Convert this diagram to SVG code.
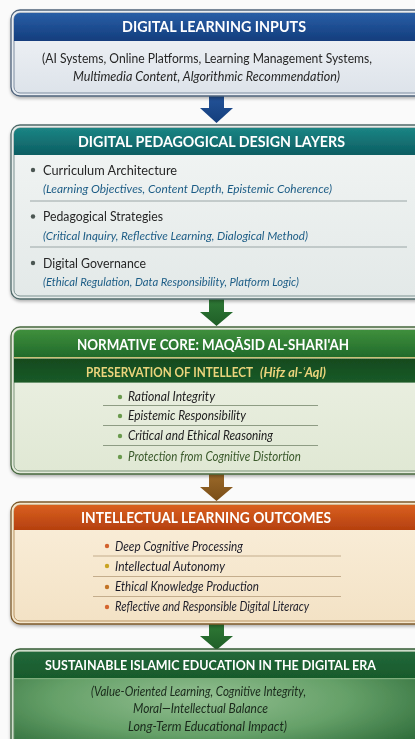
<svg xmlns="http://www.w3.org/2000/svg" width="415" height="739" viewBox="0 0 415 739">
  <style>
    .title { font-family: Lato, "Open Sans", "Liberation Sans", sans-serif; font-weight: 700; font-size: 14.5px; fill: #ffffff; text-anchor: middle; }
    .gold { fill: #ead47c; font-size: 12.4px; text-anchor: start; }
    .txt { font-family: Lato, "Open Sans", "Liberation Sans", sans-serif; font-size: 13.5px; fill: #262626; }
    .it { font-style: italic; }
    .sub { font-family: Lato, "Open Sans", "Liberation Sans", sans-serif; font-style: italic; font-size: 12px; fill: #1d5d86; }
    .item { font-family: Lato, "Open Sans", "Liberation Sans", sans-serif; font-style: italic; font-size: 12.5px; fill: #222222; }
    .era { fill: #1a2a1c; font-size: 12.5px; }
    .out { fill: #1f1f2a; font-size: 13px; }
    .sep { stroke-width: 1; fill: none; }
    .frame { stroke-width: 1.3; }
    .inner { stroke-width: 1; }
  </style>
  <defs>
    <filter id="shadow" x="-5%" y="-10%" width="110%" height="125%">
      <feDropShadow dx="0" dy="2" stdDeviation="1.8" flood-color="#000" flood-opacity="0.28"/>
    </filter>
    <linearGradient id="gBlueHead" x1="0" y1="0" x2="0" y2="1">
      <stop offset="0" stop-color="#2a5ea6"/>
      <stop offset="1" stop-color="#123d7d"/>
    </linearGradient>
    <linearGradient id="gBlueBody" x1="0" y1="0" x2="0" y2="1">
      <stop offset="0" stop-color="#f3f5f8"/>
      <stop offset="1" stop-color="#dde3ea"/>
    </linearGradient>
    <linearGradient id="gTealHead" x1="0" y1="0" x2="0" y2="1">
      <stop offset="0" stop-color="#1b8584"/>
      <stop offset="1" stop-color="#0c5d62"/>
    </linearGradient>
    <linearGradient id="gTealBody" x1="0" y1="0" x2="0" y2="1">
      <stop offset="0" stop-color="#f2f5f4"/>
      <stop offset="1" stop-color="#e3e9e8"/>
    </linearGradient>
    <linearGradient id="gGreenHead" x1="0" y1="0" x2="0" y2="1">
      <stop offset="0" stop-color="#3f8f3c"/>
      <stop offset="1" stop-color="#216b2b"/>
    </linearGradient>
    <linearGradient id="gDarkBand" x1="0" y1="0" x2="0" y2="1">
      <stop offset="0" stop-color="#114a1e"/>
      <stop offset="1" stop-color="#1b5a27"/>
    </linearGradient>
    <linearGradient id="gGreenBody" x1="0" y1="0" x2="0" y2="1">
      <stop offset="0" stop-color="#eef2e6"/>
      <stop offset="1" stop-color="#e0e8d4"/>
    </linearGradient>
    <linearGradient id="gOrangeHead" x1="0" y1="0" x2="0" y2="1">
      <stop offset="0" stop-color="#d9601f"/>
      <stop offset="1" stop-color="#b5400f"/>
    </linearGradient>
    <linearGradient id="gOrangeBody" x1="0" y1="0" x2="0" y2="1">
      <stop offset="0" stop-color="#faefdb"/>
      <stop offset="1" stop-color="#f3e2c5"/>
    </linearGradient>
    <linearGradient id="gEraHead" x1="0" y1="0" x2="0" y2="1">
      <stop offset="0" stop-color="#23683a"/>
      <stop offset="1" stop-color="#185a2b"/>
    </linearGradient>
    <radialGradient id="gEraBody" cx="0.45" cy="0.45" r="0.65">
      <stop offset="0" stop-color="#94c092"/>
      <stop offset="0.55" stop-color="#65a068"/>
      <stop offset="1" stop-color="#2e6c3a"/>
    </radialGradient>
    <linearGradient id="gArrowBlue" x1="0" y1="0" x2="0" y2="1">
      <stop offset="0" stop-color="#24549a"/>
      <stop offset="1" stop-color="#143e7c"/>
    </linearGradient>
    <linearGradient id="gArrowGreen" x1="0" y1="0" x2="0" y2="1">
      <stop offset="0" stop-color="#2f7a36"/>
      <stop offset="1" stop-color="#1f5e27"/>
    </linearGradient>
    <linearGradient id="gArrowBrown" x1="0" y1="0" x2="0" y2="1">
      <stop offset="0" stop-color="#9c6a2a"/>
      <stop offset="1" stop-color="#7a4e18"/>
    </linearGradient>
  </defs>

  <rect width="415" height="739" fill="#fafafa"/>

  <!-- connectors: block arrows between stages -->
  <g id="connectors">
    <path d="M209,95 L224,95 L224,108 L233,108 L216.5,123 L200,108 L209,108 Z" fill="url(#gArrowBlue)"/>
    <path d="M209,298 L224,298 L224,312 L233,312 L216.5,326 L200,312 L209,312 Z" fill="url(#gArrowGreen)"/>
    <path d="M209,473 L224,473 L224,487 L233,487 L216.5,501 L200,487 L209,487 Z" fill="url(#gArrowBrown)"/>
    <path d="M209,623 L224,623 L224,636 L233,636 L216.5,650 L200,636 L209,636 Z" fill="url(#gArrowGreen)"/>
  </g>

  <!-- stage 1: inputs -->
  <g id="inputs" filter="url(#shadow)">
    <rect class="frame" x="11" y="10" width="420" height="86" rx="9" fill="#e9edf2" stroke="#4f637b"/>
    <rect class="inner" x="14" y="13" width="414" height="80" rx="6" fill="url(#gBlueBody)" stroke="#7c8ca0"/>
    <path d="M14,41 V19 A6,6 0 0 1 20,13 H428 V41 Z" fill="url(#gBlueHead)"/>
    <text class="title" x="214" y="32" textLength="184" lengthAdjust="spacingAndGlyphs">DIGITAL LEARNING INPUTS</text>
    <text class="txt" x="42" y="62.5" textLength="330" lengthAdjust="spacingAndGlyphs">(AI Systems, Online Platforms, Learning Management Systems,</text>
    <text class="txt it" x="73" y="80.5" textLength="267" lengthAdjust="spacingAndGlyphs">Multimedia Content, Algorithmic Recommendation)</text>
  </g>

  <!-- stage 2: pedagogical design layers -->
  <g id="design-layers" filter="url(#shadow)">
    <rect class="frame" x="11" y="125" width="420" height="174" rx="9" fill="#e6ecea" stroke="#4f6a6a"/>
    <rect class="inner" x="14" y="128" width="414" height="168" rx="6" fill="url(#gTealBody)" stroke="#7d9292"/>
    <path d="M14,155 V134 A6,6 0 0 1 20,128 H428 V155 Z" fill="url(#gTealHead)"/>
    <text class="title" x="211.5" y="147" textLength="267" lengthAdjust="spacingAndGlyphs">DIGITAL PEDAGOGICAL DESIGN LAYERS</text>
    <g fill="#4c5752">
      <circle cx="33" cy="170" r="2.2"/>
      <circle cx="33" cy="216.5" r="2.2"/>
      <circle cx="33" cy="263" r="2.2"/>
    </g>
    <text class="txt" x="43" y="174.5" textLength="134" lengthAdjust="spacingAndGlyphs">Curriculum Architecture</text>
    <text class="sub" x="43" y="192.5" textLength="289" lengthAdjust="spacingAndGlyphs">(Learning Objectives, Content Depth, Epistemic Coherence)</text>
    <line class="sep" x1="30" y1="201" x2="407" y2="201" stroke="#9aa6a6"/>
    <text class="txt" x="43" y="221" textLength="120" lengthAdjust="spacingAndGlyphs">Pedagogical Strategies</text>
    <text class="sub" x="43" y="240" textLength="265" lengthAdjust="spacingAndGlyphs">(Critical Inquiry, Reflective Learning, Dialogical Method)</text>
    <line class="sep" x1="30" y1="247" x2="407" y2="247" stroke="#9aa6a6"/>
    <text class="txt" x="43" y="267.5" textLength="103" lengthAdjust="spacingAndGlyphs">Digital Governance</text>
    <text class="sub" x="43" y="286" textLength="256" lengthAdjust="spacingAndGlyphs">(Ethical Regulation, Data Responsibility, Platform Logic)</text>
  </g>

  <!-- stage 3: normative core -->
  <g id="normative-core" filter="url(#shadow)">
    <rect class="frame" x="11" y="327" width="420" height="147" rx="9" fill="#e4eadb" stroke="#47683f"/>
    <rect class="inner" x="14" y="330" width="414" height="141" rx="6" fill="url(#gGreenBody)" stroke="#7c957a"/>
    <path d="M14,357 V336 A6,6 0 0 1 20,330 H428 V357 Z" fill="url(#gGreenHead)"/>
    <rect x="14" y="357" width="414" height="1.6" fill="#c9c27a"/>
    <rect x="14" y="358.6" width="414" height="24" fill="url(#gDarkBand)"/>
    <text class="title" x="213" y="350" textLength="272" lengthAdjust="spacingAndGlyphs">NORMATIVE CORE: MAQĀSID AL-SHARI'AH</text>
    <text class="title gold" x="86" y="377" textLength="167" lengthAdjust="spacingAndGlyphs">PRESERVATION OF INTELLECT</text>
    <text class="title gold it" x="260" y="377" font-size="12.6" style="font-size:12.6px" textLength="66" lengthAdjust="spacingAndGlyphs">(Hifz al-ʿAql)</text>
    <g fill="#6a9a4e">
      <circle cx="120" cy="397" r="2.2"/>
      <circle cx="120" cy="416" r="2.2"/>
      <circle cx="120" cy="436" r="2.2"/>
      <circle cx="120" cy="457" r="2.2"/>
    </g>
    <text class="item" x="128" y="401" textLength="87" lengthAdjust="spacingAndGlyphs">Rational Integrity</text>
    <line class="sep" x1="103" y1="405.5" x2="318" y2="405.5" stroke="#8e9c84"/>
    <text class="item" x="128" y="420" textLength="118" lengthAdjust="spacingAndGlyphs">Epistemic Responsibility</text>
    <line class="sep" x1="103" y1="425.5" x2="318" y2="425.5" stroke="#8e9c84"/>
    <text class="item" x="128" y="440" textLength="145" lengthAdjust="spacingAndGlyphs">Critical and Ethical Reasoning</text>
    <line class="sep" x1="103" y1="445.5" x2="318" y2="445.5" stroke="#8e9c84"/>
    <text class="item" x="128" y="461" textLength="173" lengthAdjust="spacingAndGlyphs" style="fill:#3b5a2c">Protection from Cognitive Distortion</text>
  </g>

  <!-- stage 4: learning outcomes -->
  <g id="outcomes" filter="url(#shadow)">
    <rect class="frame" x="11" y="502" width="420" height="122" rx="9" fill="#f4e6cc" stroke="#7d5a2a"/>
    <rect class="inner" x="14" y="505" width="414" height="116" rx="6" fill="url(#gOrangeBody)" stroke="#b99462"/>
    <path d="M14,530 V511 A6,6 0 0 1 20,505 H428 V530 Z" fill="url(#gOrangeHead)"/>
    <text class="title" x="206" y="523" textLength="250" lengthAdjust="spacingAndGlyphs">INTELLECTUAL LEARNING OUTCOMES</text>
    <circle cx="107" cy="546" r="2.2" fill="#d2622e"/>
    <circle cx="107" cy="566" r="2.2" fill="#c9a322"/>
    <circle cx="107" cy="587" r="2.2" fill="#c27325"/>
    <circle cx="107" cy="607" r="2.2" fill="#d4652f"/>
    <text class="item out" x="115" y="550.5" textLength="128" lengthAdjust="spacingAndGlyphs">Deep Cognitive Processing</text>
    <line class="sep" x1="93" y1="556" x2="341" y2="556" stroke="#c4ad8c"/>
    <text class="item out" x="115" y="570.5" textLength="110" lengthAdjust="spacingAndGlyphs">Intellectual Autonomy</text>
    <line class="sep" x1="93" y1="576.5" x2="341" y2="576.5" stroke="#c4ad8c"/>
    <text class="item out" x="115" y="591" textLength="144" lengthAdjust="spacingAndGlyphs">Ethical Knowledge Production</text>
    <line class="sep" x1="93" y1="596.5" x2="341" y2="596.5" stroke="#c4ad8c"/>
    <text class="item out" x="115" y="611" textLength="194" lengthAdjust="spacingAndGlyphs">Reflective and Responsible Digital Literacy</text>
  </g>

  <!-- stage 5: sustainable education -->
  <g id="sustainable-education" filter="url(#shadow)">
    <rect class="frame" x="11" y="649" width="420" height="110" rx="9" fill="#cfdccb" stroke="#355c36"/>
    <rect class="inner" x="14" y="652" width="414" height="104" rx="6" fill="url(#gEraBody)" stroke="#5f8a60"/>
    <path d="M14,678 V658 A6,6 0 0 1 20,652 H428 V678 Z" fill="url(#gEraHead)"/>
    <rect x="14" y="678" width="414" height="1.2" fill="#7fae7c"/>
    <text class="title" x="210.5" y="670" font-size="13.5" style="font-size:13.5px" textLength="331" lengthAdjust="spacingAndGlyphs">SUSTAINABLE ISLAMIC EDUCATION IN THE DIGITAL ERA</text>
    <text class="item era" x="91" y="696" textLength="215" lengthAdjust="spacingAndGlyphs">(Value-Oriented Learning, Cognitive Integrity,</text>
    <text class="item era" x="133" y="712.5" textLength="135" lengthAdjust="spacingAndGlyphs">Moral—Intellectual Balance</text>
    <text class="item era" x="128" y="731" textLength="159" lengthAdjust="spacingAndGlyphs">Long-Term Educational Impact)</text>
  </g>
</svg>
